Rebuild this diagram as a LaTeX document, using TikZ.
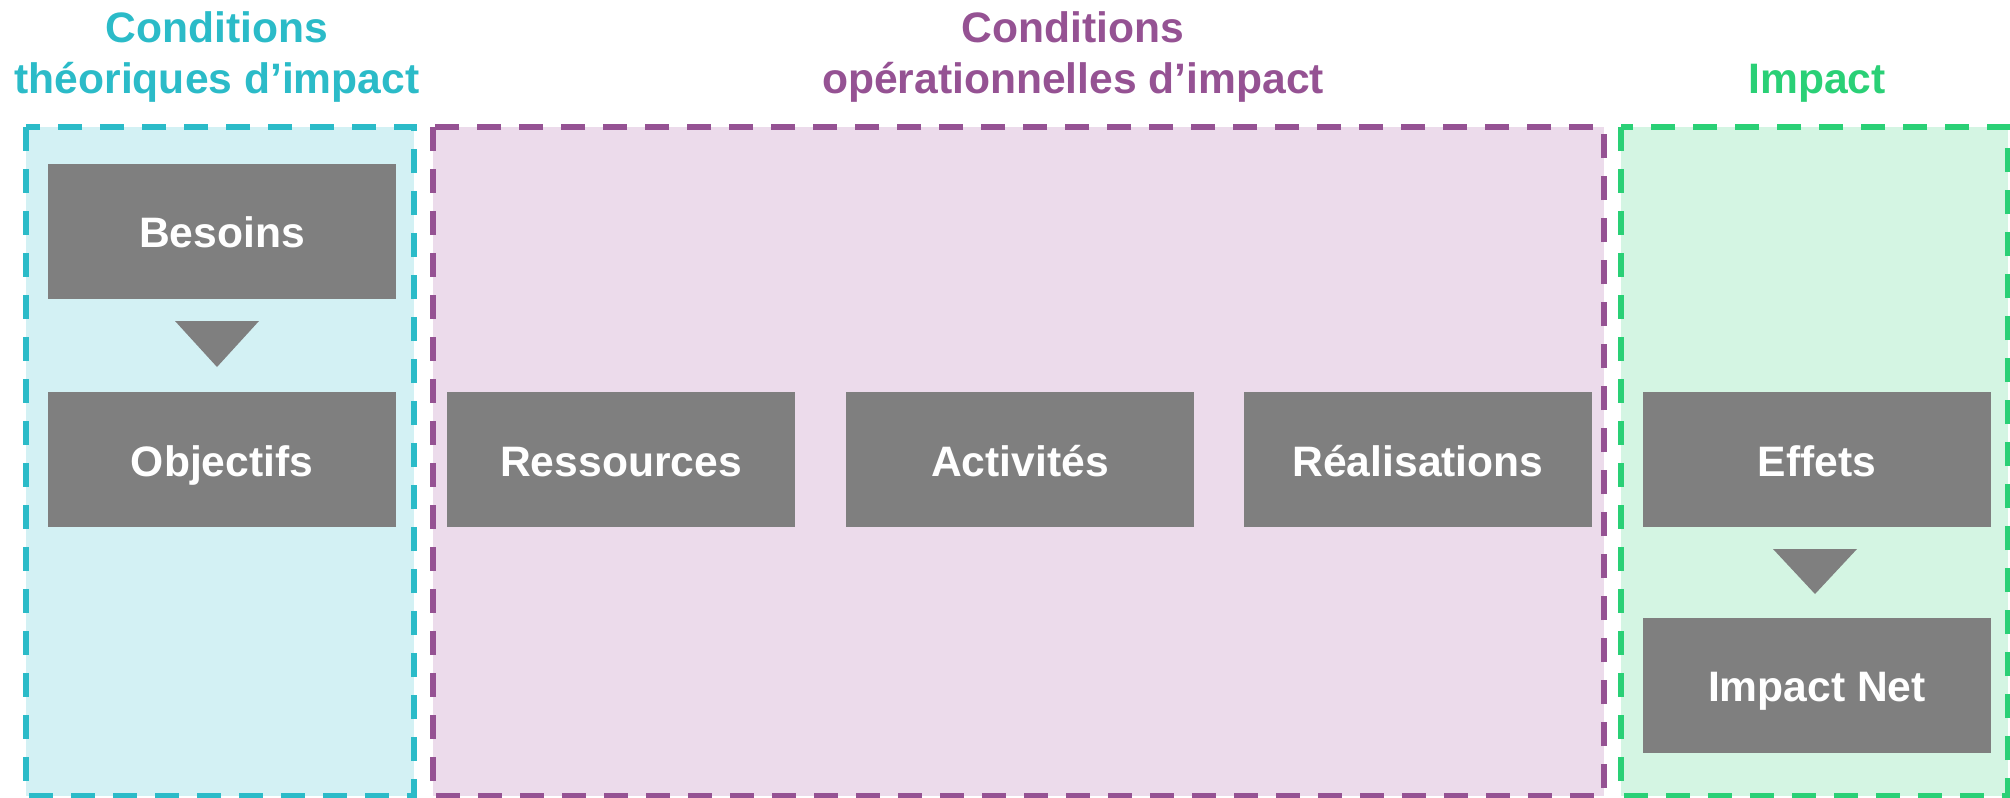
\documentclass[tikz,border=0pt]{standalone}
\usepackage{fontspec}
\setmainfont{Liberation Sans}
\definecolor{cyanline}{RGB}{43,187,200}
\definecolor{cyanfill}{RGB}{211,241,244}
\definecolor{purpline}{RGB}{149,82,147}
\definecolor{purpfill}{RGB}{236,219,235}
\definecolor{greenline}{RGB}{42,208,118}
\definecolor{greenfill}{RGB}{212,245,227}
\definecolor{boxgrey}{RGB}{127,127,127}
\tikzset{
  frame/.style={line width=3pt, dash pattern=on 12pt off 9pt},
  stepbox/.style={fill=boxgrey, text=white, font=\fontsize{21.3}{25}\selectfont\bfseries,
    minimum width=174pt, minimum height=67.5pt, inner sep=0pt,
    text height=16.5pt, text depth=0pt, anchor=center},
  title/.style={font=\fontsize{21.3}{25}\selectfont\bfseries, anchor=base, inner sep=0pt},
  tri/.style={fill=boxgrey}
}
\begin{document}
\begin{tikzpicture}[x=0.5pt,y=-0.5pt]
\useasboundingbox (0,0) rectangle (2010,798);
% frames
\draw[frame, draw=cyanline, fill=cyanfill] (26,127) rectangle (414,796);
\draw[frame, draw=purpline, fill=purpfill, line width=2.6pt] (433,127) rectangle (1604,796);
\draw[frame, draw=greenline, fill=greenfill] (1621,127) rectangle (2008,796);
% titles
\node[title, text=cyanline] (t1a) at (217,42.5) {Conditions};
\node[title, text=cyanline] (t1b) at (217,93) {théoriques d’impact};
\node[title, text=purpline] (t2a) at (1073,42.5) {Conditions};
\node[title, text=purpline] (t2b) at (1073,93) {opérationnelles d’impact};
\node[title, text=greenline] (t3) at (1817,93) {Impact};
% boxes
\node[stepbox] (besoins) at (222,231) {Besoins};
\node[stepbox] (objectifs) at (222,459.5) {Objectifs};
\node[stepbox] (ressources) at (621,459.5) {Ressources};
\node[stepbox] (activites) at (1020,459.5) {Activités};
\node[stepbox] (realisations) at (1418,459.5) {Réalisations};
\node[stepbox] (effets) at (1817,459.5) {Effets};
\node[stepbox] (impactnet) at (1817,685) {Impact Net};
% triangles
\fill[tri] (175,321) -- (259,321) -- (217,367) -- cycle;
\fill[tri] (1773,549) -- (1857,549) -- (1815,594) -- cycle;
\end{tikzpicture}
\end{document}
